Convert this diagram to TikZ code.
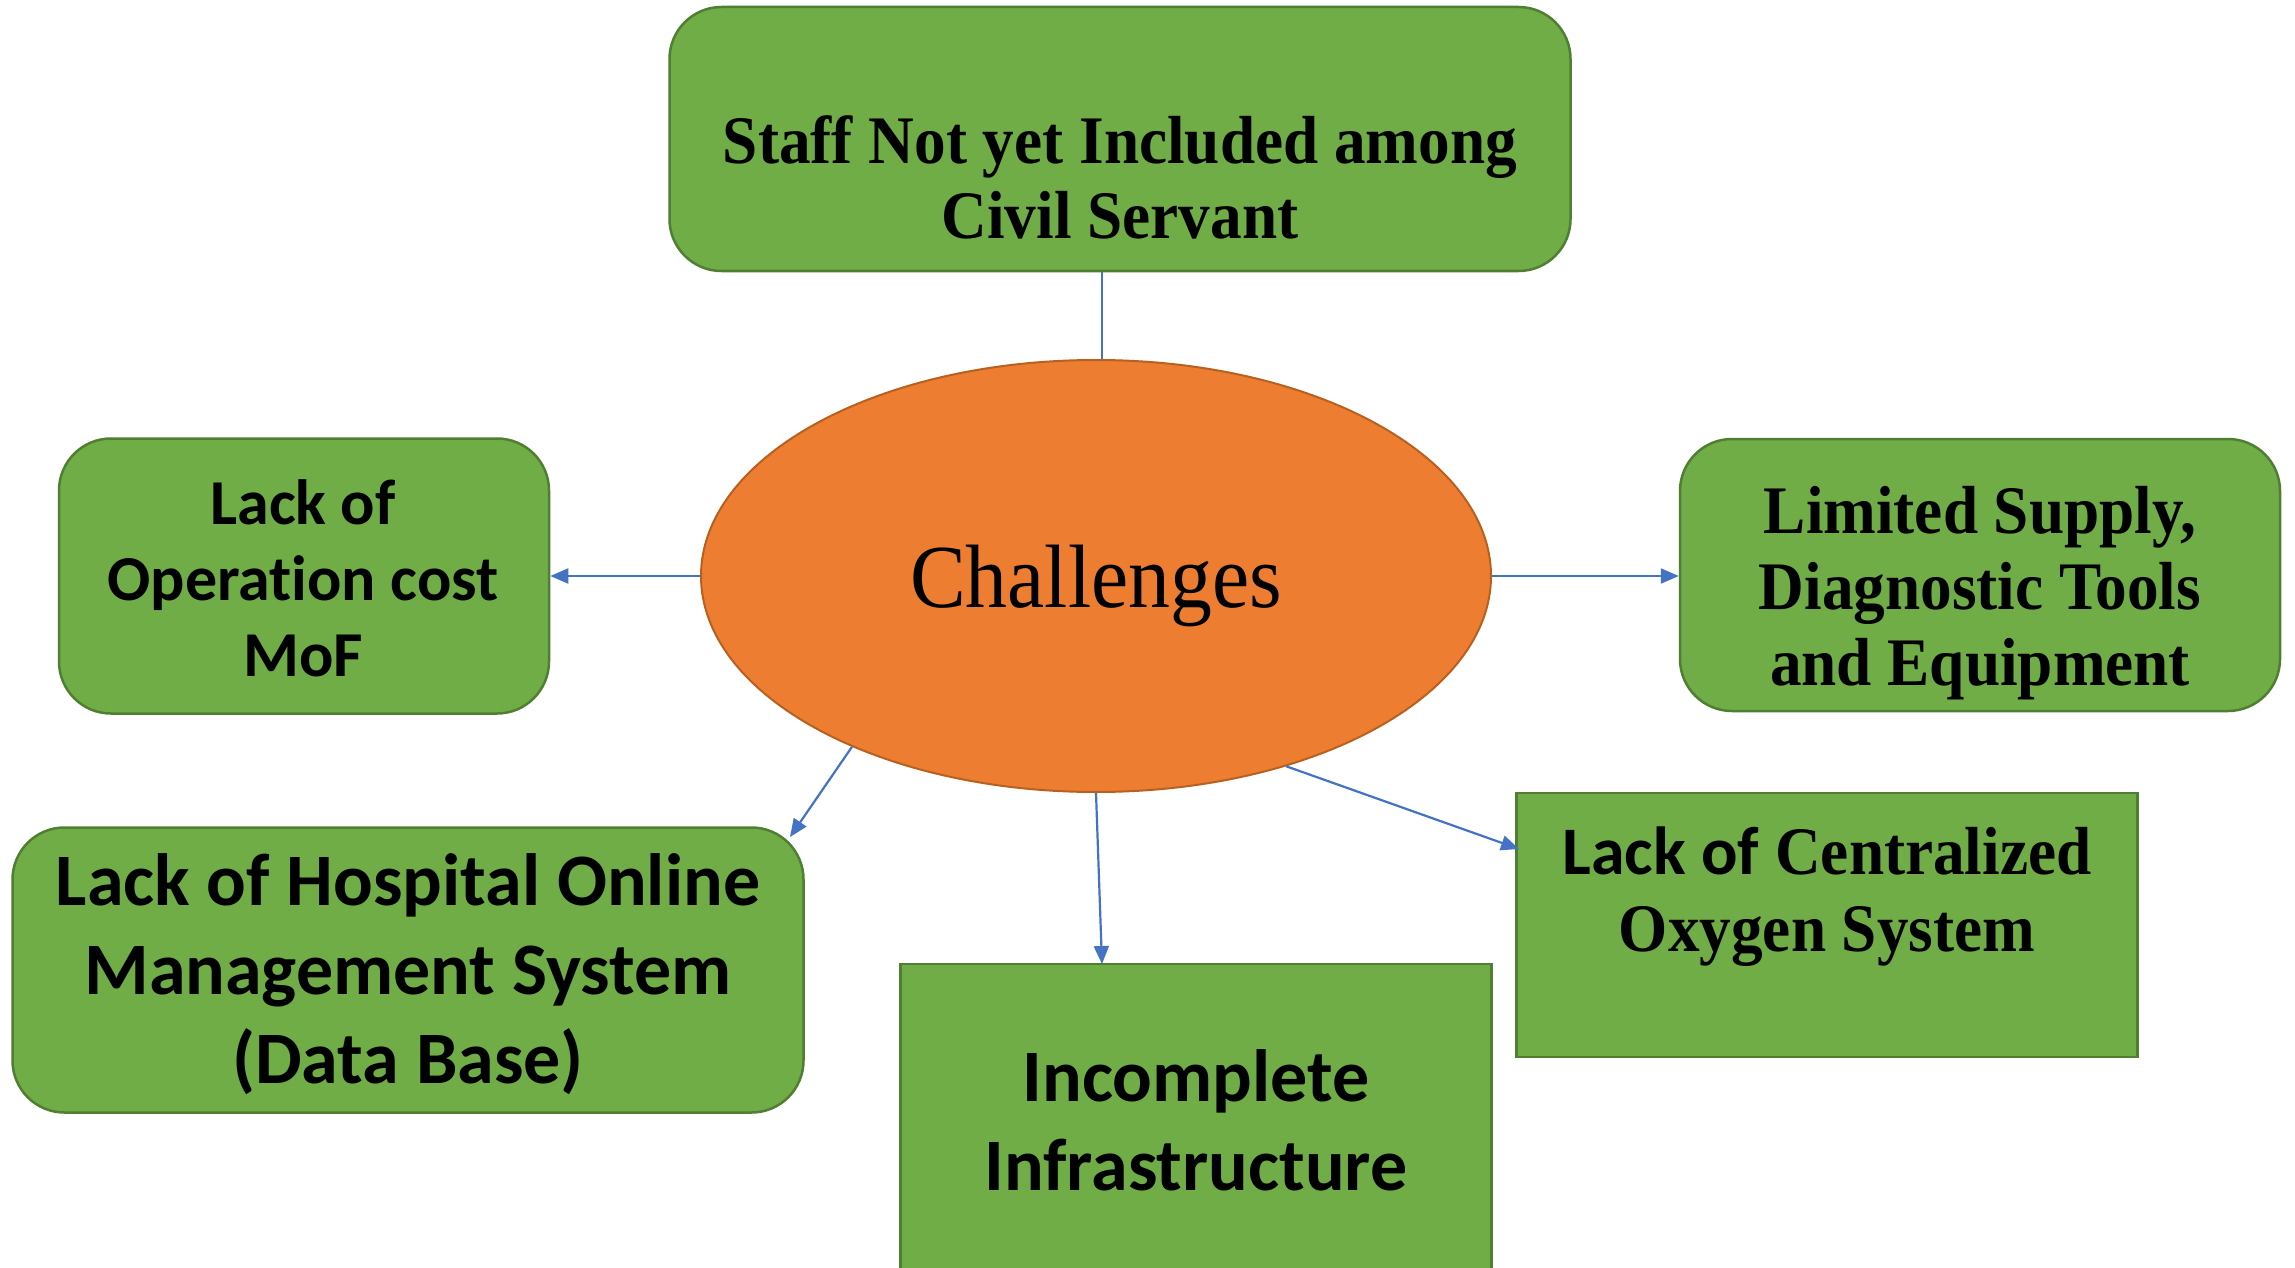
\documentclass[tikz,border=0pt]{standalone}
\usepackage{fontspec}
\usetikzlibrary{shapes.geometric,arrows.meta}
\newfontfamily\tnrfont[FakeStretch=0.93]{Liberation Serif}
\newfontfamily\calfont[Ligatures={NoCommon}]{Carlito}
\definecolor{boxgreen}{HTML}{70AD47}
\definecolor{boxborder}{HTML}{507E32}
\definecolor{ellfill}{HTML}{ED7D31}
\definecolor{ellborder}{HTML}{B8611F}
\definecolor{arrowblue}{HTML}{4472C4}
\begin{document}
\begin{tikzpicture}[x=1pt,y=-1pt,
  box/.style={draw=boxborder, fill=boxgreen, line width=2.5pt, inner sep=0pt},
  rbox/.style={box, rounded corners=52pt},
  lbl/.style={align=center, inner sep=0pt, anchor=base, text=black},
  serifb/.style={font=\tnrfont\bfseries\fontsize{68}{75}\selectfont},
  sansb/.style={font=\calfont\bfseries\fontsize{64}{76}\selectfont},
  sansbig/.style={font=\calfont\bfseries\fontsize{74}{89}\selectfont},
  conn/.style={draw=arrowblue, line width=2.2pt},
  arr/.style={conn, -{Triangle[length=18pt,width=15pt]}}]
\useasboundingbox (0,0) rectangle (2295,1268);
\fill[white] (0,0) rectangle (2295,1268);

% boxes
\node[rbox, minimum width=901pt, minimum height=264pt] (top) at (1120,139) {};
\node[rbox, minimum width=490pt, minimum height=275pt] (left) at (304,576) {};
\node[rbox, minimum width=600pt, minimum height=272pt] (right) at (1980,575) {};
\node[rbox, minimum width=791pt, minimum height=285pt] (bl) at (408,970) {};
\node[box, minimum width=591pt, minimum height=340pt] (mid) at (1196,1134) {};
\node[box, minimum width=621pt, minimum height=264pt] (br) at (1827,925) {};

% centre
\draw[conn] (top.south -| 1102,0) -- (1102,360);
\node[ellipse, draw=ellborder, fill=ellfill, line width=2pt, minimum width=790pt, minimum height=432pt, inner sep=0pt] (ell) at (1096,576) {};
\node[lbl, font=\tnrfont\fontsize{90}{100}\selectfont] (chal) at (1096,607) {Challenges};

% texts (anchor = baseline of last line)
\node[lbl, serifb] (toptxt) at (1120,239) {Staff Not yet Included among\\Civil Servant};
\node[lbl, sansb] (lefttxt) at (303,676) {Lack of\\Operation cost\\MoF};
\node[lbl, font=\tnrfont\bfseries\fontsize{68}{76}\selectfont] (righttxt) at (1980,685) {Limited Supply,\\Diagnostic Tools\\and Equipment};
\node[lbl, sansbig] (bltxt) at (408,1083) {Lack of Hospital Online\\Management System\\(Data Base)};
\node[lbl, sansbig] (midtxt) at (1196,1190) {Incomplete\\Infrastructure};
\node[lbl, font=\tnrfont\bfseries\fontsize{68}{77}\selectfont] (brtxt) at (1827,951) {{\calfont Lack of} Centralized\\Oxygen System};

% connectors
\coordinate (blend) at (790,837);
\coordinate (midend) at (1102,964);
\coordinate (brend) at (1519,849);
\draw[arr] (ell.west) -- (left.east |- ell.west);
\draw[arr] (ell.east) -- (right.west |- ell.east);
\draw[arr] (ell.215) -- (blend);
\draw[arr] (ell.south) -- (midend);
\draw[arr] (ell.-45) -- (brend);
\end{tikzpicture}
\end{document}
